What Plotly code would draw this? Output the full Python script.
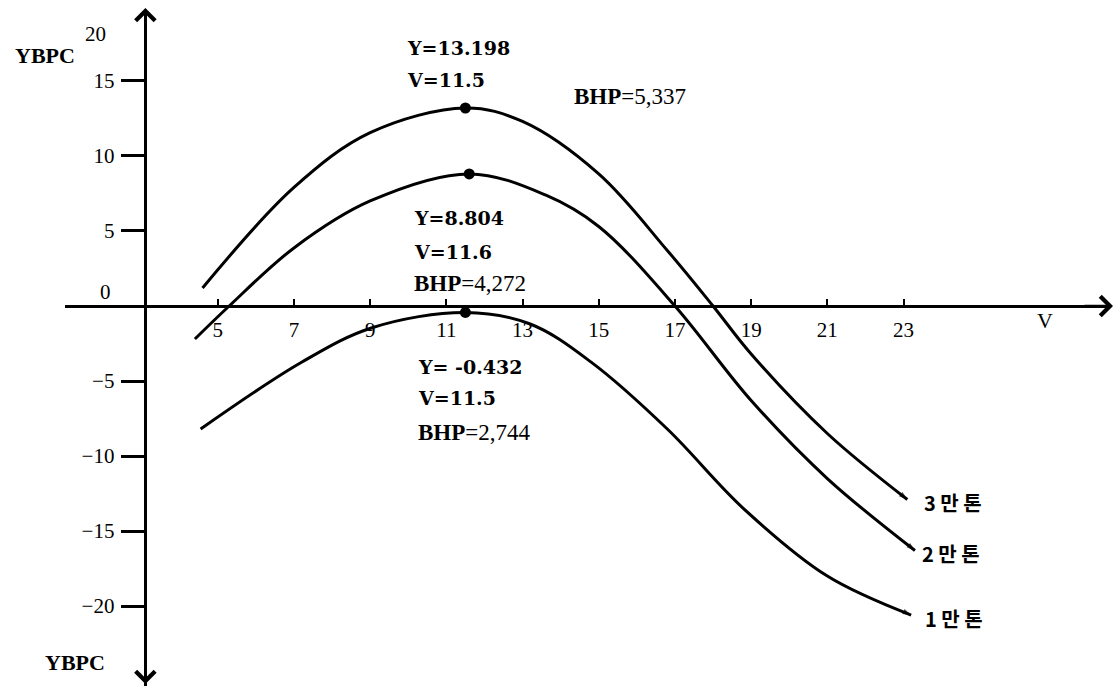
import plotly.graph_objects as go

# Speed V (knots) against YBPC for three ship sizes
v_30k = [4.6, 7.0, 9.0, 11.5, 13.0, 15.0, 16.8, 18.0, 19.0, 21.0, 23.1]
y_30k = [1.2, 7.9, 11.55, 13.198, 12.3, 8.8, 3.7, 0.0, -3.2, -8.5, -12.9]

v_20k = [4.4, 5.3, 7.0, 9.0, 11.6, 13.6, 15.0, 17.0, 19.0, 21.0, 23.3]
y_20k = [-2.2, 0.0, 3.87, 7.0, 8.804, 7.4, 5.3, 0.0, -6.3, -11.5, -16.3]

v_10k = [4.55, 7.2, 9.05, 11.5, 13.2, 14.8, 16.8, 18.8, 21.0, 23.2]
y_10k = [-8.2, -3.75, -1.45, -0.432, -1.2, -3.74, -8.2, -13.5, -18.0, -20.6]

series_names = ["3 만 톤", "2 만 톤", "1 만 톤"]

# optimum points (maximum YBPC) of each curve
peak_v = [11.5, 11.6, 11.5]
peak_y = [13.198, 8.804, -0.432]
peak_bhp = ["5,337", "4,272", "2,744"]

x_ticks = [5, 7, 9, 11, 13, 15, 17, 19, 21, 23]
y_ticks = [-20, -15, -10, -5, 5, 10, 15]

W, H = 1116, 686
X_RANGE = [0.99, 28.42]
Y_RANGE = [-25.33, 19.73]
X_DOM = [65 / W, 1110 / W]
Y_DOM = [0.0, 1 - 10 / H]
V_AXIS = 3.1  # where the YBPC axis crosses the V axis

SERIF = "Liberation Serif"
BOLD_SERIF = "DejaVu Serif"


def paper_x(v):
    return X_DOM[0] + (v - X_RANGE[0]) / (X_RANGE[1] - X_RANGE[0]) * (X_DOM[1] - X_DOM[0])


def paper_y(y):
    return Y_DOM[0] + (y - Y_RANGE[0]) / (Y_RANGE[1] - Y_RANGE[0]) * (Y_DOM[1] - Y_DOM[0])


fig = go.Figure()

curves = [(v_30k, y_30k), (v_20k, y_20k), (v_10k, y_10k)]
for (vs, ys), name in zip(curves, series_names):
    n = len(vs)
    fig.add_trace(go.Scatter(
        x=vs, y=ys, mode="lines+markers", name=name,
        line=dict(color="black", width=3, shape="spline", smoothing=1.0),
        marker=dict(
            symbol=["circle"] * (n - 1) + ["arrow"],
            size=[0] * (n - 1) + [9],
            angleref="previous",
            color="black",
            line=dict(width=0),
        ),
        cliponaxis=False,
    ))

fig.add_trace(go.Scatter(
    x=peak_v, y=peak_y, mode="markers",
    marker=dict(color="black", size=11),
    cliponaxis=False,
))

annotations = []

# text blocks beside each optimum point: (dx, dy) of Y line, V line, BHP line
offsets = [
    ((-60, 60), (-60, 28), (107, 11)),
    ((-57, -44), (-57, -78), (-57, -110)),
    ((-49, -55), (-49, -86), (-49, -120)),
]
for v, y, bhp, off in zip(peak_v, peak_y, peak_bhp, offsets):
    (yx, yy), (vx, vy), (bx, by) = off
    ytxt = f"Y={y:g}" if y >= 0 else f"Y= {y:g}"
    annotations.append(dict(x=v, y=y, xref="x", yref="y", text=ytxt, showarrow=False,
                            xanchor="left", yanchor="middle", xshift=yx, yshift=yy,
                            font=dict(family=BOLD_SERIF, size=19, color="black", weight="bold")))
    annotations.append(dict(x=v, y=y, xref="x", yref="y", text=f"V={v:g}", showarrow=False,
                            xanchor="left", yanchor="middle", xshift=vx, yshift=vy,
                            font=dict(family=BOLD_SERIF, size=19, color="black", weight="bold")))
    annotations.append(dict(x=v, y=y, xref="x", yref="y", text=f"<b>BHP</b>={bhp}", showarrow=False,
                            xanchor="left", yanchor="middle", xshift=bx, yshift=by,
                            font=dict(family=SERIF, size=23, color="black")))

# ship size labels at the end of each curve
label_dx = [15, 5, 12]
for (vs, ys), name, dx in zip(curves, series_names, label_dx):
    annotations.append(dict(x=vs[-1], y=ys[-1], xref="x", yref="y", text=name, showarrow=False,
                            xanchor="left", yanchor="middle", xshift=dx, yshift=-3,
                            font=dict(family="Noto Sans CJK KR", size=20, color="black", weight="bold")))

px_axis = paper_x(V_AXIS)
py_axis = paper_y(0)

# axis arrowheads
annotations.append(dict(x=1113 / W, y=py_axis, xref="paper", yref="paper", text="",
                        showarrow=True, ax=-30, ay=0, arrowhead=4, arrowsize=1.5,
                        arrowwidth=2.5, arrowcolor="black"))
annotations.append(dict(x=px_axis, y=1 - 8 / H, xref="paper", yref="paper", text="",
                        showarrow=True, ax=0, ay=30, arrowhead=4, arrowsize=1.5,
                        arrowwidth=2.5, arrowcolor="black"))
annotations.append(dict(x=px_axis, y=2 / H, xref="paper", yref="paper", text="",
                        showarrow=True, ax=0, ay=-30, arrowhead=4, arrowsize=1.5,
                        arrowwidth=2.5, arrowcolor="black"))

# axis titles and the extra tick texts
annotations.append(dict(x=45 / W, y=1 - 55 / H, xref="paper", yref="paper", text="YBPC",
                        showarrow=False, xanchor="center", yanchor="middle",
                        font=dict(family=SERIF, size=22, color="black", weight="bold")))
annotations.append(dict(x=75 / W, y=1 - 662 / H, xref="paper", yref="paper", text="YBPC",
                        showarrow=False, xanchor="center", yanchor="middle",
                        font=dict(family=SERIF, size=22, color="black", weight="bold")))
annotations.append(dict(x=95 / W, y=1 - 34 / H, xref="paper", yref="paper", text="20",
                        showarrow=False, xanchor="center", yanchor="middle",
                        font=dict(family=SERIF, size=21, color="black")))
annotations.append(dict(x=105 / W, y=py_axis, xref="paper", yref="paper", text="0",
                        showarrow=False, xanchor="center", yanchor="middle", yshift=14,
                        font=dict(family=SERIF, size=21, color="black")))
annotations.append(dict(x=1045 / W, y=py_axis, xref="paper", yref="paper", text="V",
                        showarrow=False, xanchor="center", yanchor="middle", yshift=-15,
                        font=dict(family=SERIF, size=22, color="black")))

fig.update_layout(
    width=W, height=H,
    margin=dict(l=0, r=0, t=0, b=0),
    paper_bgcolor="white", plot_bgcolor="white",
    showlegend=False,
    annotations=annotations,
    xaxis=dict(
        domain=X_DOM, range=X_RANGE, anchor="free", position=py_axis,
        showline=True, linecolor="black", linewidth=2.5,
        ticks="inside", ticklen=6, tickwidth=2, tickcolor="black",
        tickvals=x_ticks, showgrid=False, zeroline=False,
        tickfont=dict(family=SERIF, size=21, color="black"),
        ticklabelstandoff=4,
    ),
    yaxis=dict(
        domain=Y_DOM, range=Y_RANGE, anchor="free", position=px_axis,
        showline=True, linecolor="black", linewidth=2.5,
        ticks="outside", ticklen=24, tickwidth=2.5, tickcolor="black",
        tickvals=y_ticks, showgrid=False, zeroline=False,
        tickfont=dict(family=SERIF, size=21, color="black"),
        ticklabelstandoff=2,
    ),
)

fig.write_html("out.html")
